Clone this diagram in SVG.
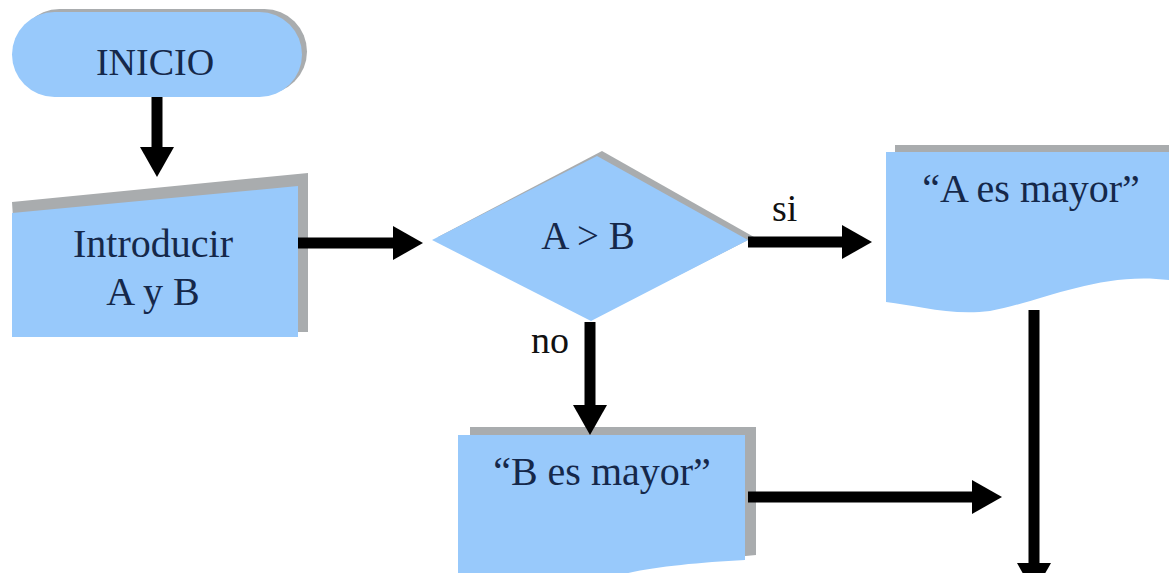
<svg xmlns="http://www.w3.org/2000/svg" width="1169" height="573" viewBox="0 0 1169 573">
  <style>
    .fill { fill: #98c9fb; }
    .shadow { fill: #a9acae; }
    .lbl { fill: #15284a; text-anchor: middle; }
    .edge { fill: #111111; }
    .conn { stroke: #000000; stroke-width: 11; fill: none; marker-end: url(#ah); }
  </style>
  <defs>
    <marker id="ah" markerUnits="userSpaceOnUse" markerWidth="30" markerHeight="34" refX="0" refY="17" orient="auto" overflow="visible">
      <path d="M0,0 L30,17 L0,34 Z" fill="#000000"/>
    </marker>
  </defs>
  <rect width="1169" height="573" fill="#ffffff"/>

  <g id="inicio">
    <rect class="shadow" x="17" y="9" width="290" height="85" rx="42.5"/>
    <rect class="fill" x="12" y="12" width="290" height="85" rx="42.5"/>
    <text class="lbl" x="155" y="75" font-size="38" font-family="'Liberation Serif', 'Times New Roman', serif">INICIO</text>
  </g>

  <g id="entrada">
    <polygon class="shadow" points="12,202 308,173 308,332 20,332"/>
    <polygon class="fill" points="12,213 298,186 298,337 12,337"/>
    <text class="lbl" x="153" y="257" font-size="40" font-family="'Liberation Serif', 'Times New Roman', serif">Introducir</text>
    <text class="lbl" x="153" y="305" font-size="40" font-family="'Liberation Serif', 'Times New Roman', serif">A y B</text>
  </g>

  <g id="decision">
    <polygon class="shadow" points="438,237 602,151 754,237 596,317"/>
    <polygon class="fill" points="432,240 597,156 748,240 591,321"/>
    <text class="lbl" x="588" y="249" font-size="39" font-family="'Liberation Serif', 'Times New Roman', serif">A &gt; B</text>
  </g>

  <g id="a-mayor">
    <path class="shadow" d="M895,145 H1169 V275 C1100,266 1040,292 995,303 C955,308 925,300 895,296 Z"/>
    <path class="fill" d="M886,152 H1169 V280 C1100,271 1040,302 990,311 C950,316 915,305 886,302 Z"/>
    <text class="lbl" x="1031" y="202" font-size="40" font-family="'Liberation Serif', 'Times New Roman', serif">“A es mayor”</text>
  </g>

  <g id="b-mayor">
    <path class="shadow" d="M470,427 H756 V555 C700,560 650,565 600,573 H470 Z"/>
    <path class="fill" d="M458,435 H745 V560 C690,563 640,568 610,578 H458 Z"/>
    <text class="lbl" x="602" y="485" font-size="40" font-family="'Liberation Serif', 'Times New Roman', serif">“B es mayor”</text>
  </g>

  <g id="connectors">
    <line class="conn" x1="157" y1="97" x2="157" y2="147"/>
    <line class="conn" x1="298" y1="243" x2="393" y2="243"/>
    <line class="conn" x1="748" y1="242" x2="842" y2="242"/>
    <line class="conn" x1="590" y1="322" x2="590" y2="405"/>
    <line class="conn" x1="748" y1="497" x2="972" y2="497"/>
    <line class="conn" x1="1034" y1="310" x2="1034" y2="563"/>
    <text class="edge" x="772" y="221" font-size="38" font-family="'Liberation Serif', 'Times New Roman', serif">si</text>
    <text class="edge" x="531" y="353" font-size="38" font-family="'Liberation Serif', 'Times New Roman', serif">no</text>
  </g>
</svg>
